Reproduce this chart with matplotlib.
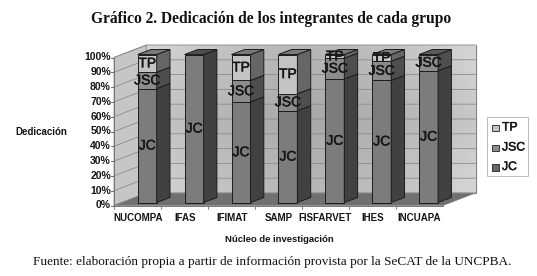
import numpy as np
import matplotlib
matplotlib.use('Agg')
import matplotlib.pyplot as plt
import matplotlib.patheffects as pe
from matplotlib.patches import Polygon, Rectangle

# values
grupos = ['NUCOMPA', 'IFAS', 'IFIMAT', 'SAMP', 'FISFARVET', 'IHES', 'INCUAPA']
jc = [77, 100, 68, 62, 83.5, 82.5, 89]
jsc = [11, 0, 14.5, 11.5, 14, 13, 11]
tp = [12, 0, 17.5, 26.5, 2.5, 4.5, 0]
y_ticks = [0, 10, 20, 30, 40, 50, 60, 70, 80, 90, 100]
serie_nombres = ['JC', 'JSC', 'TP']

titulo = 'Gráfico 2. Dedicación de los integrantes de cada grupo'
fuente = 'Fuente: elaboración propia a partir de información provista por la SeCAT de la UNCPBA.'

W, H = 537, 276
fig = plt.figure(figsize=(W / 100, H / 100), dpi=100)
ax = fig.add_axes([0, 0, 1, 1])
ax.set_xlim(0, W)
ax.set_ylim(H, 0)
ax.axis('off')

# oblique projection of the 3d box, in pixels
x0, x1 = 114, 443
y0, y100 = 205.5, 57.5
dx, dy = 32.5, -12.5
trazo = [pe.withStroke(linewidth=0.35, foreground='#222222')]


def ypix(v, y_base=y0):
    return y_base - v * (y0 - y100) / 100


def poly(pts, fc, ec='none', lw=0.0, z=1):
    p = Polygon(pts, closed=True, facecolor=fc, edgecolor=ec, linewidth=lw, zorder=z)
    ax.add_patch(p)
    return p


# back wall with soft shading
back = Polygon([(x0 + dx, y100 + dy), (x1 + dx, y100 + dy), (x1 + dx, y0 + dy), (x0 + dx, y0 + dy)],
               closed=True, facecolor='none', edgecolor='#808080', linewidth=0.8, zorder=1)
ax.add_patch(back)
gx, gy = np.meshgrid(np.linspace(-1, 1, 80), np.linspace(-1, 1, 60))
shade = 0.66 + 0.12 * np.clip(np.abs(gx) ** 1.5 + 0.5 * np.abs(gy), 0, 1.4)
im = ax.imshow(shade, extent=(x0 + dx, x1 + dx, y0 + dy, y100 + dy), cmap='gray', vmin=0, vmax=1,
               aspect='auto', zorder=1, interpolation='bilinear')
im.set_clip_path(back)
ax.set_xlim(0, W)
ax.set_ylim(H, 0)

# left wall and floor
poly([(x0, y0), (x0, y100), (x0 + dx, y100 + dy), (x0 + dx, y0 + dy)], '#c6c6c6', '#8a8a8a', 0.6, 1.2)
poly([(x0, y0), (x0 + dx, y0 + dy), (x1 + dx, y0 + dy), (x1, y0)], '#707070', '#777777', 0.4, 1.2)

# grid on the walls and y labels
for v in y_ticks:
    yy = ypix(v)
    ax.plot([x0, x0 + dx, x1 + dx], [yy, yy + dy, yy + dy], color='#8c8c8c', lw=0.6, zorder=1.5)
    ax.plot([x0 - 3, x0], [yy, yy], color='#555555', lw=0.6, zorder=1.5)
    ax.text(x0 - 3, yy, '%d%%' % v, ha='right', va='center', fontsize=7.5,
            fontweight='bold', family='Liberation Sans', color='#151515')
ax.plot([x0, x1], [y0, y0], color='#777777', lw=0.7, zorder=1.5)
ax.plot([x0, x0], [y0, y100], color='#777777', lw=0.7, zorder=1.5)

# stacked bars
bar_left, bar_step, bar_w = 137.7, 46.9, 19
bar_dx, bar_dy = 13.3, -5
y_base = 202.5
colores = {'JC': ('#7c7c7c', '#414141', '#4f4f4f'),
           'JSC': ('#8c8c8c', '#4e4e4e', '#5a5a5a'),
           'TP': ('#c4c4c4', '#666666', '#7a7a7a')}
for i, g in enumerate(grupos):
    xl = bar_left + i * bar_step
    xr = xl + bar_w
    base = 0
    for nombre, vals in zip(serie_nombres, [jc, jsc, tp]):
        v = vals[i]
        if v == 0:
            continue
        front, side, top = colores[nombre]
        ya, yb = ypix(base, y_base), ypix(base + v, y_base)
        poly([(xl, ya), (xr, ya), (xr, yb), (xl, yb)], front, '#1c1c1c', 0.7, 3)
        poly([(xr, ya), (xr + bar_dx, ya + bar_dy), (xr + bar_dx, yb + bar_dy), (xr, yb)], side, '#1c1c1c', 0.7, 3)
        base += v
        if base >= 99.9:
            poly([(xl, yb), (xr, yb), (xr + bar_dx, yb + bar_dy), (xl + bar_dx, yb + bar_dy)], top, '#1c1c1c', 0.7, 3)
        t = ax.text((xl + xr) / 2, (ya + yb) / 2, nombre, ha='center', va='center', fontsize=10,
                    family='Liberation Sans', color='#151515', zorder=5)
        t.set_path_effects(trazo)

# category labels
for i, g in enumerate(grupos):
    ax.text(138 + i * 46.85, 218, g, ha='center', va='center', fontsize=7, fontweight='bold',
            family='Liberation Sans', color='#151515', zorder=5)
    xt = x0 + i * 47
    ax.plot([xt, xt], [y0, y0 + 3], color='#777777', lw=0.6, zorder=1.5)

# legend box
ax.add_patch(Rectangle((487, 117), 41, 59, facecolor='white', edgecolor='#bdbdbd', linewidth=0.7, zorder=4))
leg_y = [127.5, 147.5, 167]
for yy, nombre, fc in zip(leg_y, ['TP', 'JSC', 'JC'], ['#c4c4c4', '#8c8c8c', '#666666']):
    ax.add_patch(Rectangle((492, yy - 3), 6.5, 6.5, facecolor=fc, edgecolor='#222222', linewidth=0.6, zorder=5))
    t = ax.text(502, yy, nombre, ha='left', va='center', fontsize=8.8, family='Liberation Sans',
                color='#151515', zorder=5)
    t.set_path_effects(trazo)

# axis titles, title and source line
ax.text(41.5, 132, 'Dedicación', ha='center', va='center', fontsize=7, fontweight='bold',
        family='Liberation Sans', color='#151515')
ax.text(279, 239, 'Núcleo de investigación', ha='center', va='center', fontsize=6.8, fontweight='bold',
        family='Liberation Sans', color='#151515')
ax.text(271.5, 19, titulo, ha='center', va='center', fontsize=11.2, fontweight='bold',
        family='Liberation Serif', color='#111111')
ax.text(272, 262, fuente, ha='center', va='center', fontsize=9.5,
        family='Liberation Serif', color='#111111')

fig.savefig('out.png', dpi=100)
